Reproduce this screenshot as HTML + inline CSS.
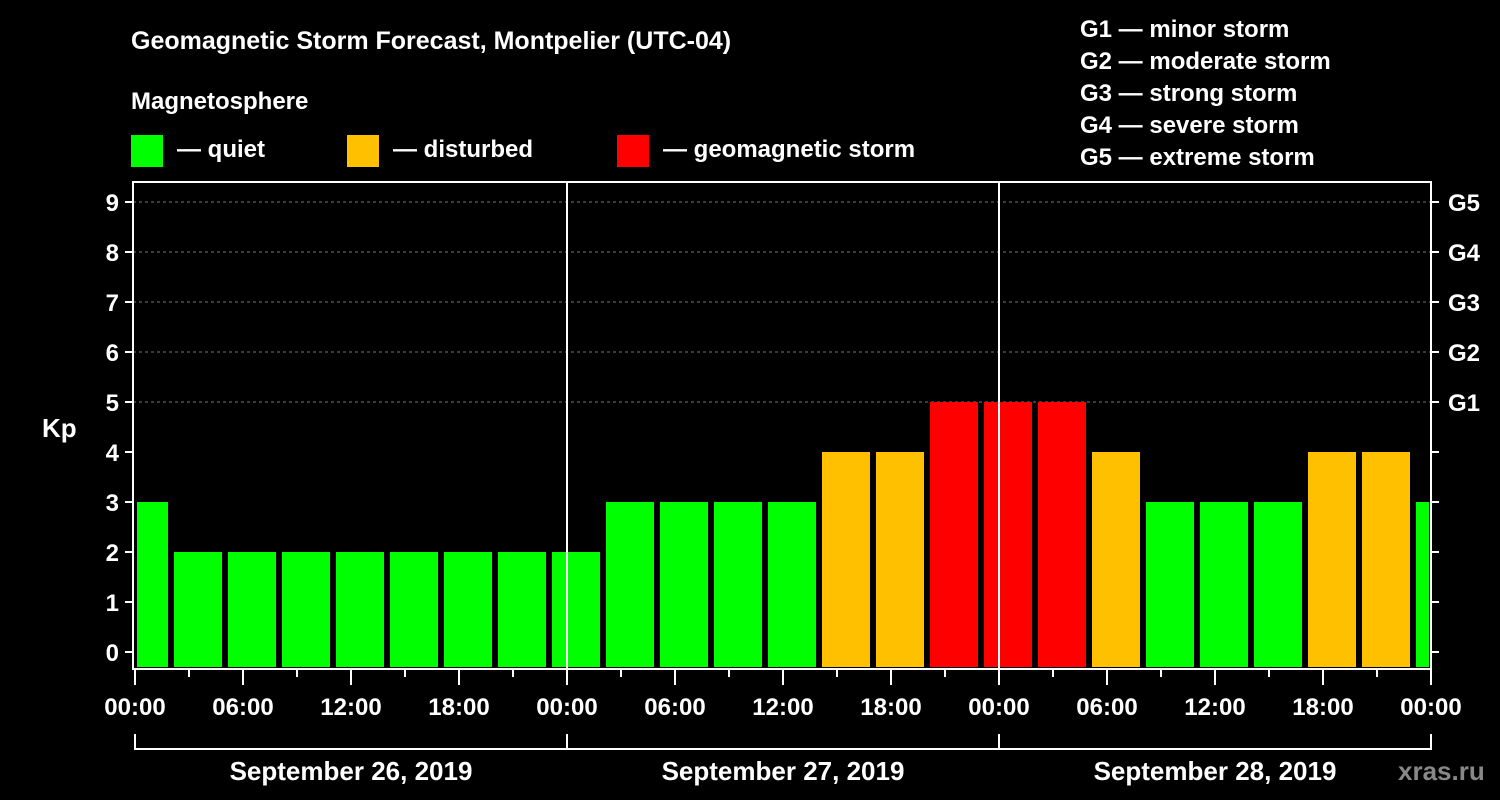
<!DOCTYPE html>
<html><head><meta charset="utf-8"><style>
html,body{margin:0;padding:0;background:#000;}
svg{display:block;font-family:"Liberation Sans",Arial,sans-serif;font-weight:bold;}
</style></head><body>
<svg id="chart" width="1500" height="800" viewBox="0 0 1500 800">
<rect x="0" y="0" width="1500" height="800" fill="#000"/>
<text x="131" y="49" fill="#fff" font-size="25">Geomagnetic Storm Forecast, Montpelier (UTC-04)</text>
<text x="131" y="109" fill="#fff" font-size="24">Magnetosphere</text>
<g><rect x="131" y="135" width="32" height="32" fill="#00ff00"/><text x="177" y="157" fill="#fff" font-size="24">— quiet</text></g>
<g><rect x="347" y="135" width="32" height="32" fill="#ffc000"/><text x="393" y="157" fill="#fff" font-size="24">— disturbed</text></g>
<g><rect x="617" y="135" width="32" height="32" fill="#ff0000"/><text x="663" y="157" fill="#fff" font-size="24">— geomagnetic storm</text></g>
<g fill="#fff" font-size="24">
<text x="1080" y="37">G1 — minor storm</text>
<text x="1080" y="69">G2 — moderate storm</text>
<text x="1080" y="101">G3 — strong storm</text>
<text x="1080" y="133">G4 — severe storm</text>
<text x="1080" y="165">G5 — extreme storm</text>
</g>
<text x="42" y="437" fill="#fff" font-size="26">Kp</text>
<text x="1398" y="780" fill="#888" font-size="26">xras.ru</text>
<g id="grid"></g><g id="bars"></g><g id="axes"></g>
</svg>
<script>
const kpValues=[3,2,2,2,2,2,2,2,2,3,3,3,3,4,4,5,5,5,4,3,3,3,4,4,3];
const yTicks=[0,1,2,3,4,5,6,7,8,9];
const gLabels=["G1","G2","G3","G4","G5"];
const hourLabels=["00:00","06:00","12:00","18:00"];
const dateLabels=["September 26, 2019","September 27, 2019","September 28, 2019"];
const startHour=-1;
const NS="http://www.w3.org/2000/svg";
const L=133,R=1431,T=182,B=669;
const X0=135,pxH=18;
const x=h=>X0+h*pxH;
const y=v=>652-v*50;
function mk(tag,attrs,parent){const e=document.createElementNS(NS,tag);for(const k in attrs)e.setAttribute(k,attrs[k]);document.getElementById(parent).appendChild(e);return e;}
function color(v){return v>=5?"#ff0000":v>=4?"#ffc000":"#00ff00";}
// grid
for(let v=5;v<=9;v++){const l=mk("line",{x1:L,x2:R,y1:y(v),y2:y(v),stroke:"#777","stroke-dasharray":"3,3","stroke-width":1},"grid");

}
// bars
kpValues.forEach((v,i)=>{let h0=startHour+i*3,h1=h0+3;let x0=Math.max(x(h0)+3,x(0)+2),x1=Math.min(x(h1)-3,x(72)-2);
const r=mk("rect",{x:x0,y:y(v),width:x1-x0,height:667-y(v),fill:color(v)},"bars");

});
// frame
const f=mk("rect",{x:L,y:T,width:R-L,height:B-T,fill:"none",stroke:"#fff","stroke-width":2},"axes");


for(let d=1;d<3;d++){const l=mk("line",{x1:x(d*24),x2:x(d*24),y1:T,y2:B,stroke:"#fff","stroke-width":2},"axes");

}
yTicks.forEach(v=>{
const t=mk("line",{x1:L-8,x2:L,y1:y(v),y2:y(v),stroke:"#fff","stroke-width":2},"axes");


const t2=mk("line",{x1:R,x2:R+8,y1:y(v),y2:y(v),stroke:"#fff","stroke-width":2},"axes");


const tx=mk("text",{x:L-14,y:y(v)+9,fill:"#fff","font-size":24,"text-anchor":"end"},"axes");tx.textContent=v;

});
gLabels.forEach((g,i)=>{const tx=mk("text",{x:1448,y:y(5+i)+9,fill:"#fff","font-size":24},"axes");tx.textContent=g;

});
for(let h=0;h<=72;h+=3){const major=h%6===0;const t=mk("line",{x1:x(h),x2:x(h),y1:B,y2:major?685:677,stroke:"#fff","stroke-width":2},"axes");


if(major){const tx=mk("text",{x:x(h),y:715,fill:"#fff","font-size":24,"text-anchor":"middle"},"axes");tx.textContent=hourLabels[(h/6)%4];

}}
dateLabels.forEach((d,i)=>{const a=x(i*24),b=x(i*24+24);
const p=mk("path",{d:`M${a} 734V749H${b}V734`,fill:"none",stroke:"#fff","stroke-width":2},"axes");


const tx=mk("text",{x:(a+b)/2,y:780,fill:"#fff","font-size":26,"text-anchor":"middle"},"axes");tx.textContent=d;

});
</script>
</body></html>
